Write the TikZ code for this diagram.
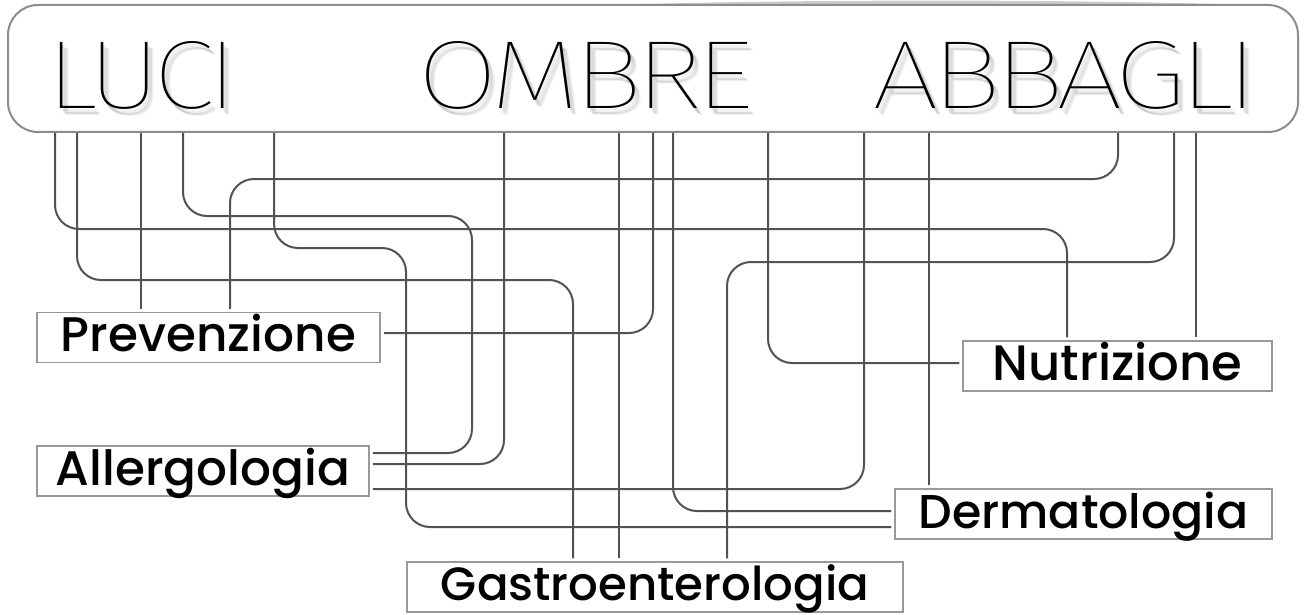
\documentclass[tikz,border=0pt]{standalone}
\usepackage{fontspec}
\usepackage{graphicx}
\IfFontExistsTF{Fira Sans Thin}
  {\newfontfamily\titlefont{Fira Sans Thin}[LetterSpace=-6]}
  {\newfontfamily\titlefont{DejaVu Sans ExtraLight}[LetterSpace=-6]}
\IfFontExistsTF{Poppins Medium}
  {\newfontfamily\labelfont{Poppins Medium}}
  {\newfontfamily\labelfont{Poppins}}

\tikzset{
  titlebox/.style={draw=black!45, line width=1pt, rounded corners=15pt,
    fill=white, inner sep=0pt},
  labelbox/.style={draw=black!40, line width=0.75pt, fill=white,
    inner sep=0pt, minimum height=25pt, text height=16.5pt, text depth=2.5pt},
  wire/.style={draw=black!68, line width=1pt, rounded corners=12pt,
    shorten >=1.5pt},
}

\begin{document}
\begin{tikzpicture}[x=0.5pt, y=-0.5pt]
  \useasboundingbox (0,0) rectangle (1306,615);
  % ---------- title bar ----------
  \fill[black!20] (610,5) .. controls (800,-1) and (1100,-1) .. (1275,6) -- cycle;
  \node[titlebox, minimum width=645pt, minimum height=63.5pt]
    (title) at (653,68.5) {};
  \foreach \w/\x/\len in {LUCI/46/95.5pt, OMBRE/417/168pt, ABBAGLI/872/193pt} {
    % soft shadow
    \foreach \d in {3,...,7}
      \node[anchor=base west, inner sep=0pt, opacity=0.05]
        at (\x+\d-1,109+\d) {\resizebox{\len}{33.5pt}{\titlefont \w}};
    \node[anchor=base west, inner sep=0pt] (\w)
      at (\x,109) {\resizebox{\len}{33.5pt}{\titlefont \w}};
  }
  % ---------- labels ----------
  \node[labelbox, minimum width=171.5pt] (prev) at (208.5,337.5)
    {\resizebox{147.5pt}{!}{\labelfont Prevenzione}};
  \node[labelbox, minimum width=166pt] (allerg) at (203,471)
    {\resizebox{147pt}{!}{\labelfont Allergologia}};
  \node[labelbox, minimum width=248pt, text depth=3.5pt] (gastro) at (655,587)
    {\resizebox{214pt}{!}{\labelfont Gastroenterologia}};
  \node[labelbox, minimum width=188.5pt] (derm) at (1083.5,514)
    {\resizebox{165pt}{!}{\labelfont Dermatologia}};
  \node[labelbox, minimum width=154.5pt] (nutr) at (1117.5,366)
    {\resizebox{125pt}{!}{\labelfont Nutrizione}};
  % ---------- wires ----------
  % straight drops
  \foreach \x/\n in {141/prev, 619/gastro, 929/derm, 1196/nutr}
    \draw[wire] (\x,0 |- title.south) -- (\x,0 |- \n.north);
  % one bend into a side
  \foreach \x/\y/\n/\s in {504/464/allerg/east, 653/333/prev/east,
      673/511/derm/west, 768/363/nutr/west, 864/489/allerg/east}
    \draw[wire] (\x,0 |- title.south) |- (\n.\s |- 0,\y);
  % two bends onto a top
  \foreach \x/\y/\t/\n in {55/229/1067/nutr, 77/280/573/gastro,
      1118/179/230/prev, 1174/262/727/gastro}
    \draw[wire] (\x,0 |- title.south) |- (\t,\y) -- (\t,0 |- \n.north);
  % three bends into a side
  \foreach \x/\y/\t/\u/\n/\s in {183/216/472/453/allerg/east,
      274/248/406/527/derm/west}
    \draw[wire] (\x,0 |- title.south) |- (\t,\y) |- (\n.\s |- 0,\u);
\end{tikzpicture}
\end{document}
